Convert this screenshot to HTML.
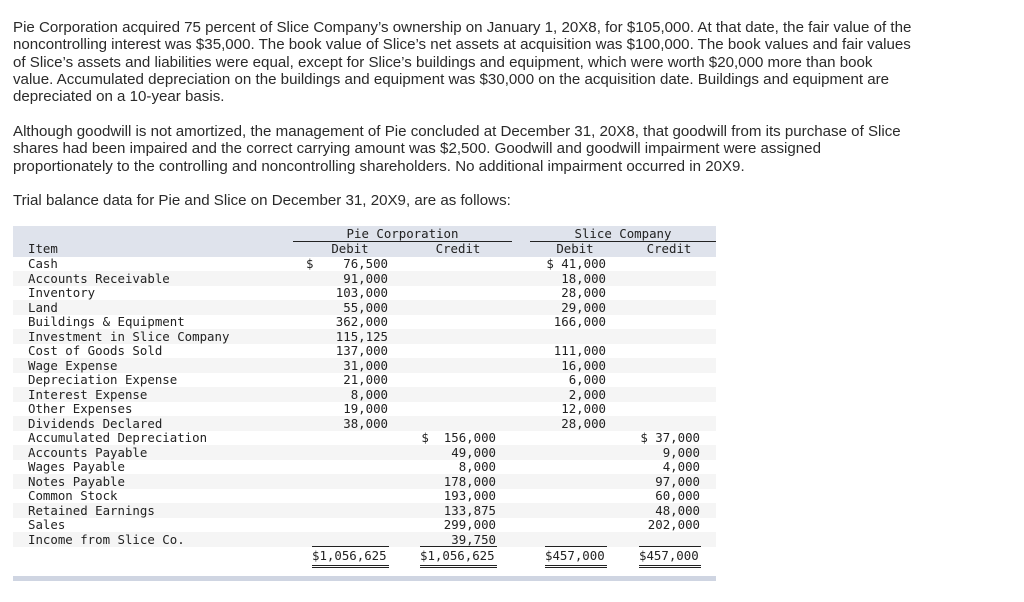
<!DOCTYPE html>
<html><head><meta charset="utf-8"><style>
body{margin:0;width:1024px;height:602px;background:#fff;position:relative;overflow:hidden;color:#2a2a2a}
.p{position:absolute;left:13px;font-family:"Liberation Sans",sans-serif;font-size:15.1px;line-height:17.3px;white-space:nowrap}
.m{position:absolute;font-family:"DejaVu Sans Mono","Liberation Mono",monospace;font-size:12.4px;line-height:14.5px;white-space:pre;color:#222}
.r{text-align:right}
.bg{position:absolute;left:13px;width:703px}
.ln{position:absolute;height:1px;background:#222}
</style></head><body>
<div class="p" style="top:19px">Pie Corporation acquired 75 percent of Slice Company’s ownership on January 1, 20X8, for $105,000. At that date, the fair value of the<br>noncontrolling interest was $35,000. The book value of Slice’s net assets at acquisition was $100,000. The book values and fair values<br>of Slice’s assets and liabilities were equal, except for Slice’s buildings and equipment, which were worth $20,000 more than book<br>value. Accumulated depreciation on the buildings and equipment was $30,000 on the acquisition date. Buildings and equipment are<br>depreciated on a 10-year basis.</div>
<div class="p" style="top:123px">Although goodwill is not amortized, the management of Pie concluded at December 31, 20X8, that goodwill from its purchase of Slice<br>shares had been impaired and the correct carrying amount was $2,500. Goodwill and goodwill impairment were assigned<br>proportionately to the controlling and noncontrolling shareholders. No additional impairment occurred in 20X9.</div>
<div class="p" style="top:192px">Trial balance data for Pie and Slice on December 31, 20X9, are as follows:</div>

<div class="bg" style="top:226px;height:31px;background:#dfe3ec"></div>
<div class="bg" style="top:271px;height:14.5px;background:#f5f5f5"></div>
<div class="bg" style="top:300px;height:14.5px;background:#f5f5f5"></div>
<div class="bg" style="top:329px;height:14.5px;background:#f5f5f5"></div>
<div class="bg" style="top:358px;height:14.5px;background:#f5f5f5"></div>
<div class="bg" style="top:387px;height:14.5px;background:#f5f5f5"></div>
<div class="bg" style="top:416px;height:14.5px;background:#f5f5f5"></div>
<div class="bg" style="top:445px;height:14.5px;background:#f5f5f5"></div>
<div class="bg" style="top:474px;height:14.5px;background:#f5f5f5"></div>
<div class="bg" style="top:503px;height:14.5px;background:#f5f5f5"></div>
<div class="bg" style="top:532px;height:14.5px;background:#f5f5f5"></div>
<div class="bg" style="top:576px;height:5px;background:#cfd5e2"></div>

<div class="m" style="left:293px;width:219px;top:227px;text-align:center">Pie Corporation</div>
<div class="ln" style="left:293px;width:219px;top:241px"></div>
<div class="m" style="left:530px;width:186px;top:227px;text-align:center">Slice Company</div>
<div class="ln" style="left:530px;width:186px;top:241px"></div>
<div class="m" style="left:28px;top:242px">Item</div>
<div class="m" style="left:320px;width:60px;top:242px;text-align:center">Debit</div>
<div class="m" style="left:428px;width:60px;top:242px;text-align:center">Credit</div>
<div class="m" style="left:545px;width:60px;top:242px;text-align:center">Debit</div>
<div class="m" style="left:639px;width:60px;top:242px;text-align:center">Credit</div>

<div class="m" style="left:28px;top:257px">Cash
Accounts Receivable
Inventory
Land
Buildings &amp; Equipment
Investment in Slice Company
Cost of Goods Sold
Wage Expense
Depreciation Expense
Interest Expense
Other Expenses
Dividends Declared
Accumulated Depreciation
Accounts Payable
Wages Payable
Notes Payable
Common Stock
Retained Earnings
Sales
Income from Slice Co.</div>
<div class="m r" style="left:290px;width:98px;top:257px">$    76,500
91,000
103,000
55,000
362,000
115,125
137,000
31,000
21,000
8,000
19,000
38,000</div>
<div class="m r" style="left:400px;width:96px;top:431px">$  156,000
49,000
8,000
178,000
193,000
133,875
299,000
39,750</div>
<div class="m r" style="left:530px;width:76px;top:257px">$ 41,000
18,000
28,000
29,000
166,000

111,000
16,000
6,000
2,000
12,000
28,000</div>
<div class="m r" style="left:620px;width:80px;top:431px">$ 37,000
9,000
4,000
97,000
60,000
48,000
202,000</div>

<div class="ln" style="left:312px;width:77px;top:546px"></div>
<div class="ln" style="left:420px;width:77px;top:546px"></div>
<div class="ln" style="left:545px;width:62px;top:546px"></div>
<div class="ln" style="left:639px;width:62px;top:546px"></div>
<div class="m" style="left:312px;top:549px">$1,056,625</div>
<div class="m" style="left:420px;top:549px">$1,056,625</div>
<div class="m" style="left:545px;top:549px">$457,000</div>
<div class="m" style="left:639px;top:549px">$457,000</div>
<div class="ln" style="left:312px;width:77px;top:565px"></div><div class="ln" style="left:312px;width:77px;top:567px"></div>
<div class="ln" style="left:420px;width:77px;top:565px"></div><div class="ln" style="left:420px;width:77px;top:567px"></div>
<div class="ln" style="left:545px;width:62px;top:565px"></div><div class="ln" style="left:545px;width:62px;top:567px"></div>
<div class="ln" style="left:639px;width:62px;top:565px"></div><div class="ln" style="left:639px;width:62px;top:567px"></div>
</body></html>
